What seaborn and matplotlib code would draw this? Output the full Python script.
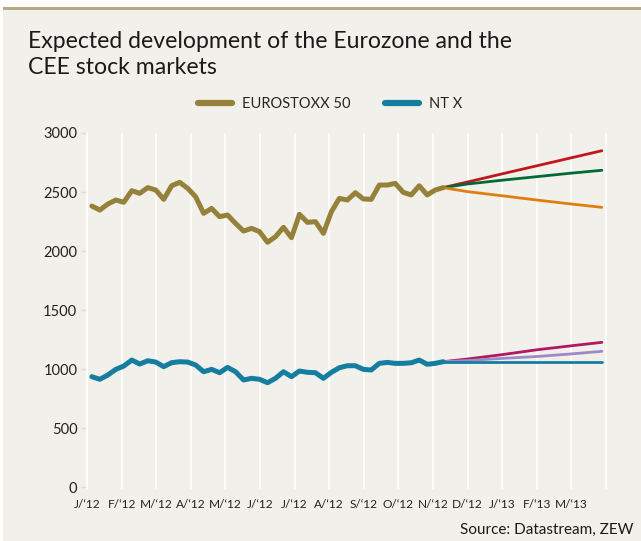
import numpy as np
import pandas as pd
import seaborn as sns
import matplotlib.pyplot as plt
from matplotlib.patches import Rectangle
from matplotlib.lines import Line2D

# weekly history, x in months since start of Jan 2012
start_month = 0.14
week = 12 / 52

eurostoxx = [2381, 2347, 2398, 2432, 2413, 2511, 2489, 2537, 2517, 2438,
             2553, 2582, 2531, 2460, 2319, 2361, 2291, 2305, 2234, 2169,
             2192, 2164, 2074, 2121, 2201, 2113, 2311, 2243, 2249, 2150,
             2333, 2446, 2432, 2494, 2441, 2438, 2559, 2559, 2573, 2497,
             2475, 2553, 2475, 2517, 2537]
ntx = [935, 913, 949, 997, 1025, 1076, 1042, 1070, 1059, 1020,
       1054, 1062, 1059, 1034, 977, 997, 969, 1014, 977, 907,
       921, 913, 884, 921, 977, 935, 983, 972, 969, 921,
       972, 1011, 1028, 1028, 997, 992, 1048, 1056, 1048, 1048,
       1053, 1076, 1040, 1048, 1062]

# forecast scenarios
fc_months = [10.29, 11, 12, 13, 14, 14.88]
es_high = [2537, 2585, 2654, 2722, 2790, 2850]
es_mid = [2537, 2568, 2600, 2630, 2660, 2684]
es_low = [2537, 2503, 2468, 2432, 2398, 2370]
ntx_high = [1062, 1085, 1122, 1163, 1197, 1226]
ntx_mid = [1062, 1072, 1090, 1106, 1128, 1150]
ntx_flat = [1060, 1060, 1060, 1060, 1060, 1060]

month_labels = ["J/‘12", "F/‘12", "M/‘12", "A/‘12", "M/‘12", "J/‘12", "J/‘12",
                "A/‘12", "S/‘12", "O/‘12", "N/‘12", "D/‘12", "J/‘13", "F/‘13", "M/‘13"]

hist_x = start_month + np.arange(len(eurostoxx)) * week
hist = pd.concat([
    pd.DataFrame({"month": hist_x, "value": eurostoxx, "series": "EUROSTOXX 50"}),
    pd.DataFrame({"month": hist_x, "value": ntx, "series": "NT X"}),
])
fc = pd.concat([
    pd.DataFrame({"month": fc_months, "value": v, "series": n})
    for n, v in [("es_high", es_high), ("es_mid", es_mid), ("es_low", es_low),
                 ("ntx_high", ntx_high), ("ntx_mid", ntx_mid), ("ntx_flat", ntx_flat)]
])

hist_colors = {"EUROSTOXX 50": "#958139", "NT X": "#157DA0"}
fc_colors = {"es_high": "#C0171F", "es_mid": "#00693A", "es_low": "#E17E12",
             "ntx_high": "#B0195F", "ntx_mid": "#9E8AC8", "ntx_flat": "#157DA0"}

cream = "#F2F0EA"
sns.set_style("white")
plt.rcParams["font.family"] = ["Lato", "DejaVu Sans"]

fig = plt.figure(figsize=(6.41, 5.41), dpi=100)
fig.patches.append(Rectangle((3 / 641, 0), 1, 1 - 9 / 541, transform=fig.transFigure,
                             facecolor=cream, edgecolor="none", zorder=-10))
fig.patches.append(Rectangle((3 / 641, 1 - 9.5 / 541), 1, 2.5 / 541, transform=fig.transFigure,
                             facecolor="#B9A683", edgecolor="none", zorder=-9))

ax = fig.add_axes([87 / 641, 1 - 488.8 / 541, (616.4 - 87) / 641, (488.8 - 133) / 541])
ax.set_facecolor(cream)

sns.lineplot(data=fc, x="month", y="value", hue="series", palette=fc_colors,
             linewidth=2.0, legend=False, ax=ax, zorder=2)
sns.lineplot(data=hist, x="month", y="value", hue="series", palette=hist_colors,
             linewidth=3.6, ax=ax, zorder=3)

ax.set_xlim(0, 15.3)
ax.set_ylim(-15, 3000)
ax.set_xticks(range(16))
ax.set_xticklabels(month_labels + [""])
ax.set_yticks(range(0, 3001, 500))
ax.grid(axis="x", color="white", linewidth=1.2)
ax.grid(axis="y", visible=False)
for s in ["top", "right", "bottom"]:
    ax.spines[s].set_visible(False)
ax.spines["left"].set_color("white")
ax.spines["left"].set_linewidth(1.2)
ax.tick_params(axis="x", length=0, pad=7, labelsize=8.6, labelcolor="#222222")
ax.tick_params(axis="y", length=4, width=1, color="#DDDBD5", pad=3,
               labelsize=10.5, labelcolor="#222222", left=True)
ax.set_xlabel("")
ax.set_ylabel("")

handles = [Line2D([], [], color=hist_colors[k], linewidth=4.5) for k in hist_colors]
ax.legend(handles, list(hist_colors), ncol=2, frameon=False,
          loc="center", bbox_to_anchor=(0.515, 1 - 104 / 541), bbox_transform=fig.transFigure,
          fontsize=10.5, handlelength=2.3, handletextpad=0.7, columnspacing=2.4)

fig.text(28 / 641, 1 - 31 / 541, "Expected development of the Eurozone and the\nCEE stock markets",
         ha="left", va="top", fontsize=16.6, color="#1A1A1A", linespacing=1.3)
fig.text(633 / 641, 1 - 534 / 541, "Source: Datastream, ZEW", ha="right", va="baseline",
         fontsize=11, color="#1A1A1A")

fig.savefig("out.png", dpi=100)
